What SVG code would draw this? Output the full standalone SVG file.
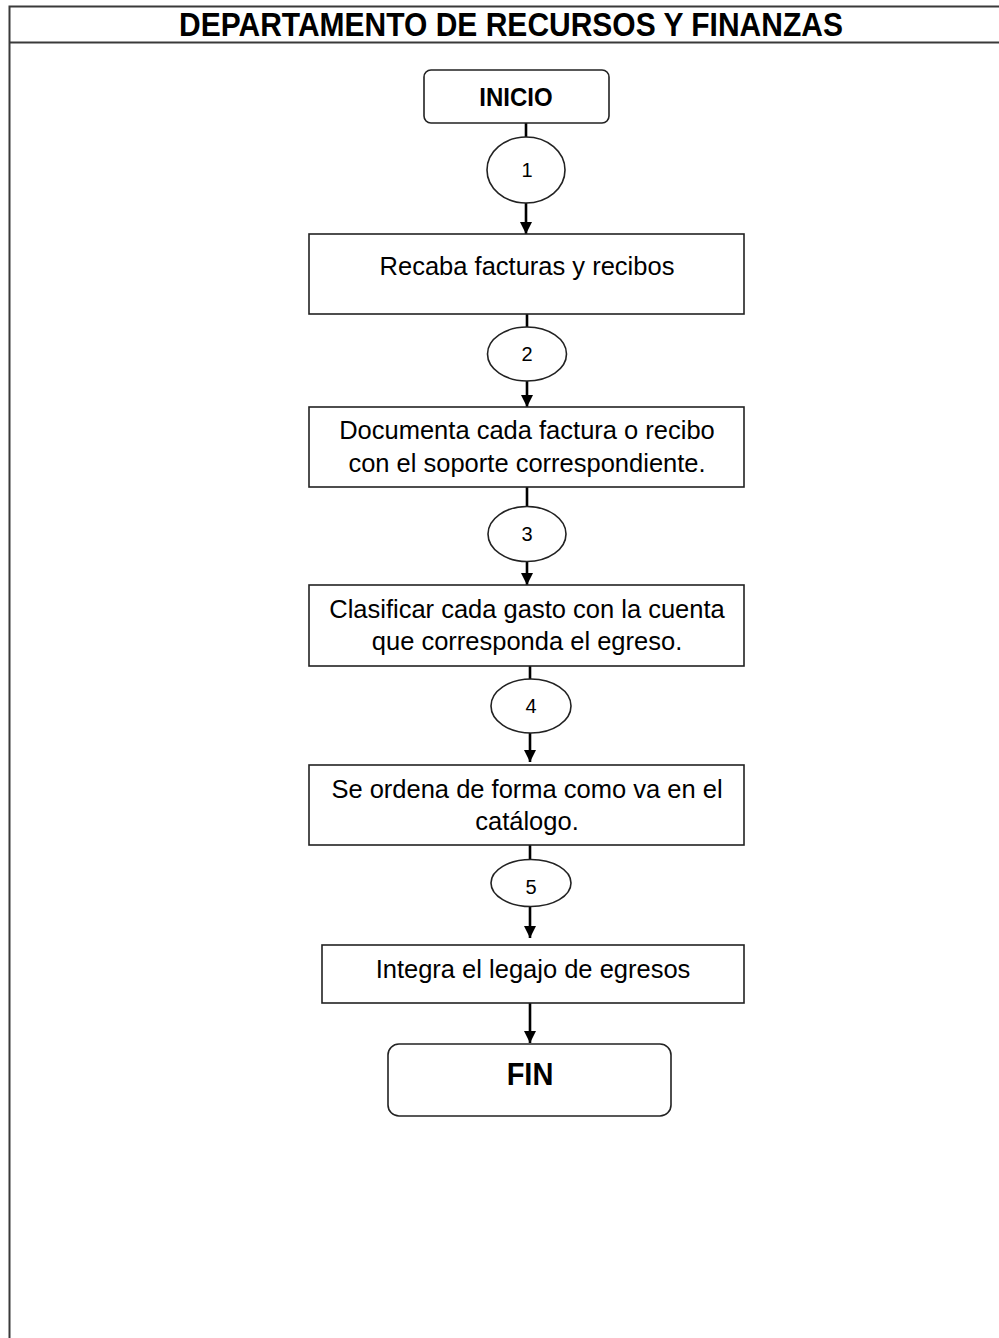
<svg xmlns="http://www.w3.org/2000/svg" width="999" height="1338" viewBox="0 0 999 1338">
<style>
.frame{stroke:#3a3a3a;stroke-width:2;fill:none}
.box{fill:#fff;stroke:#222;stroke-width:1.6}
.ell{fill:#fff;stroke:#222;stroke-width:1.6}
.conn{stroke:#000;stroke-width:2.6;fill:none}
.t{font-family:"Liberation Sans",Arial,sans-serif;font-size:25.5px;fill:#000;text-anchor:middle}
.n{font-family:"Liberation Sans",Arial,sans-serif;font-size:20px;fill:#000;text-anchor:middle}
.b{font-family:"Liberation Sans",Arial,sans-serif;font-weight:bold;fill:#000;text-anchor:middle}
</style>
<defs>
<marker id="arr" markerWidth="12" markerHeight="12" refX="10" refY="5" orient="auto" markerUnits="userSpaceOnUse" viewBox="0 0 10 10">
<path d="M0,0 L10,5 L0,10 Z" fill="#000"/>
</marker>
</defs>
<rect width="999" height="1338" fill="#fff"/>
<g id="frame">
<path class="frame" d="M9.5,1338 V6.5 H999"/>
<path class="frame" d="M9.5,42.5 H999"/>
<text class="b" transform="translate(511,36) scale(1,1.12)" x="0" y="0" font-size="30">DEPARTAMENTO DE RECURSOS Y FINANZAS</text>
</g>
<g id="connectors">
<line class="conn" x1="526" y1="123" x2="526" y2="137"/>
<line class="conn" x1="526" y1="203" x2="526" y2="234" marker-end="url(#arr)"/>
<line class="conn" x1="527" y1="314" x2="527" y2="327"/>
<line class="conn" x1="527" y1="381" x2="527" y2="407" marker-end="url(#arr)"/>
<line class="conn" x1="527" y1="487" x2="527" y2="506"/>
<line class="conn" x1="527" y1="561" x2="527" y2="585" marker-end="url(#arr)"/>
<line class="conn" x1="530" y1="666" x2="530" y2="679"/>
<line class="conn" x1="530" y1="733" x2="530" y2="762" marker-end="url(#arr)"/>
<line class="conn" x1="530" y1="845" x2="530" y2="860"/>
<line class="conn" x1="530" y1="906" x2="530" y2="938" marker-end="url(#arr)"/>
<line class="conn" x1="530" y1="1003" x2="530" y2="1043" marker-end="url(#arr)"/>
</g>
<g id="inicio">
<rect class="box" x="424" y="70" width="185" height="53" rx="7"/>
<text class="b" transform="translate(516,106) scale(1,1.08)" x="0" y="0" font-size="24">INICIO</text>
</g>
<g id="c1">
<ellipse class="ell" cx="526" cy="170" rx="39" ry="33"/>
<text class="n" x="527" y="177">1</text>
</g>
<g id="p1">
<rect class="box" x="309" y="234" width="435" height="80"/>
<text class="t" x="527" y="275">Recaba facturas y recibos</text>
</g>
<g id="c2">
<ellipse class="ell" cx="527" cy="354" rx="39.5" ry="27"/>
<text class="n" x="527" y="361">2</text>
</g>
<g id="p2">
<rect class="box" x="309" y="407" width="435" height="80"/>
<text class="t" x="527" y="439">Documenta cada factura o recibo</text>
<text class="t" x="527" y="472">con el soporte correspondiente.</text>
</g>
<g id="c3">
<ellipse class="ell" cx="527" cy="534" rx="39" ry="27.5"/>
<text class="n" x="527" y="541">3</text>
</g>
<g id="p3">
<rect class="box" x="309" y="585" width="435" height="81"/>
<text class="t" x="527" y="618">Clasificar cada gasto con la cuenta</text>
<text class="t" x="527" y="650">que corresponda el egreso.</text>
</g>
<g id="c4">
<ellipse class="ell" cx="531" cy="706" rx="40" ry="27"/>
<text class="n" x="531" y="713">4</text>
</g>
<g id="p4">
<rect class="box" x="309" y="765" width="435" height="80"/>
<text class="t" x="527" y="798">Se ordena de forma como va en el</text>
<text class="t" x="527" y="830">catálogo.</text>
</g>
<g id="c5">
<ellipse class="ell" cx="531" cy="883" rx="40" ry="23.5"/>
<text class="n" x="531" y="894">5</text>
</g>
<g id="p5">
<rect class="box" x="322" y="945" width="422" height="58"/>
<text class="t" x="533" y="978">Integra el legajo de egresos</text>
</g>
<g id="fin">
<rect class="box" x="388" y="1044" width="283" height="72" rx="11"/>
<text class="b" transform="translate(530,1085) scale(1,1.06)" x="0" y="0" font-size="29">FIN</text>
</g>
</svg>
